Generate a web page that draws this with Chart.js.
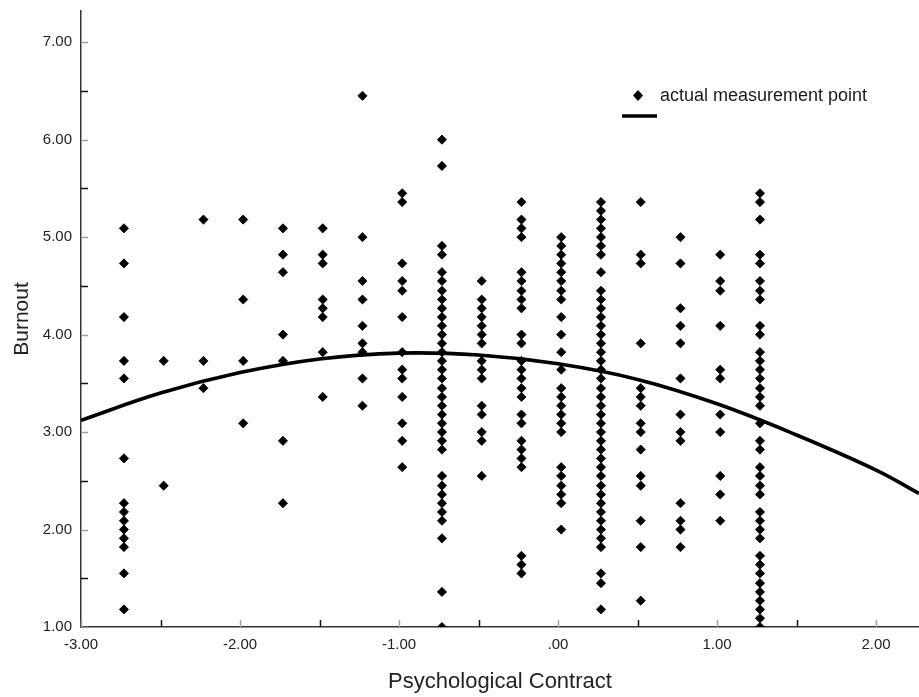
<html>
<head>
    <title>Burnout vs Psychological Contract</title>
    <style>
        body { margin: 0; background: #fff; }
    </style>
</head>
<body>
<div style="width: 919px; height: 697px">
    <canvas id="scatter"></canvas>
</div>

<script src="https://cdn.jsdelivr.net/npm/chart.js"></script>

<script>
    // psychological contract levels (one column of points per level)
    const contractLevels = [-2.73, -2.48, -2.23, -1.98, -1.73, -1.48, -1.23, -0.98, -0.73,
        -0.48, -0.23, 0.02, 0.27, 0.52, 0.77, 1.02, 1.27]

    // burnout scores, same order as contractLevels
    const burnoutByLevel = [
        [5.09, 4.73, 4.18, 3.73, 3.55, 2.73, 2.27, 2.18, 2.09, 2.00, 1.91, 1.82, 1.55, 1.18],
        [3.73, 2.45],
        [5.18, 3.73, 3.45],
        [5.18, 4.36, 3.73, 3.09],
        [5.09, 4.82, 4.64, 4.00, 3.73, 2.91, 2.27],
        [5.09, 4.82, 4.73, 4.36, 4.27, 4.18, 3.82, 3.36],
        [6.45, 5.00, 4.55, 4.36, 4.09, 3.91, 3.82, 3.55, 3.27],
        [5.45, 5.36, 4.73, 4.55, 4.45, 4.18, 3.82, 3.64, 3.55, 3.36, 3.09, 2.91, 2.64],
        [6.00, 5.73, 4.91, 4.82, 4.64, 4.55, 4.45, 4.36, 4.27, 4.18, 4.09, 4.00, 3.91, 3.82,
            3.73, 3.64, 3.55, 3.45, 3.36, 3.27, 3.18, 3.09, 3.00, 2.91, 2.82, 2.55, 2.45, 2.36,
            2.27, 2.18, 2.09, 1.91, 1.36, 1.00],
        [4.55, 4.36, 4.27, 4.18, 4.09, 4.00, 3.91, 3.73, 3.64, 3.55, 3.27, 3.18, 3.00, 2.91, 2.55],
        [5.36, 5.18, 5.09, 5.00, 4.64, 4.55, 4.45, 4.36, 4.27, 4.00, 3.91, 3.73, 3.64, 3.55,
            3.45, 3.36, 3.18, 3.09, 2.91, 2.82, 2.73, 2.64, 1.73, 1.64, 1.55],
        [5.00, 4.91, 4.82, 4.73, 4.64, 4.55, 4.45, 4.36, 4.18, 4.00, 3.82, 3.64, 3.45, 3.36,
            3.27, 3.18, 3.09, 3.00, 2.64, 2.55, 2.45, 2.36, 2.27, 2.00],
        [5.36, 5.27, 5.18, 5.09, 5.00, 4.91, 4.82, 4.64, 4.45, 4.36, 4.27, 4.18, 4.09, 4.00,
            3.91, 3.82, 3.73, 3.64, 3.55, 3.45, 3.36, 3.27, 3.18, 3.09, 3.00, 2.91, 2.82, 2.73,
            2.64, 2.55, 2.45, 2.36, 2.27, 2.18, 2.09, 2.00, 1.91, 1.82, 1.55, 1.45, 1.18],
        [5.36, 4.82, 4.73, 3.91, 3.45, 3.36, 3.27, 3.09, 3.00, 2.82, 2.55, 2.45, 2.09, 1.82, 1.27],
        [5.00, 4.73, 4.27, 4.09, 3.91, 3.55, 3.18, 3.00, 2.91, 2.27, 2.09, 2.00, 1.82],
        [4.82, 4.55, 4.45, 4.09, 3.64, 3.55, 3.18, 3.00, 2.55, 2.36, 2.09],
        [5.45, 5.36, 5.18, 4.82, 4.73, 4.55, 4.45, 4.36, 4.09, 4.00, 3.82, 3.73, 3.64, 3.55,
            3.45, 3.36, 3.27, 3.09, 2.91, 2.82, 2.64, 2.55, 2.45, 2.36, 2.18, 2.09, 2.00, 1.91,
            1.73, 1.64, 1.55, 1.45, 1.36, 1.27, 1.18, 1.09, 1.00]
    ]

    // fitted curve
    const curveX = [-3.00, -2.50, -2.00, -1.50, -1.00, -0.50, 0.00, 0.50, 1.00, 1.50, 2.00, 2.27]
    const curveY = [3.12, 3.40, 3.61, 3.75, 3.81, 3.79, 3.70, 3.54, 3.29, 2.97, 2.61, 2.37]

    // tick labels
    const xTickValues = [-3, -2, -1, 0, 1, 2]
    const xTickLabels = ['-3.00', '-2.00', '-1.00', '.00', '1.00', '2.00']
    const yTickValues = [1, 2, 3, 4, 5, 6, 7]
    const yTickLabels = ['1.00', '2.00', '3.00', '4.00', '5.00', '6.00', '7.00']

    const legendText = 'actual measurement point'

    let scatterPoints = []
    contractLevels.forEach((level, i) => {
        for (const b of burnoutByLevel[i]) {
            scatterPoints.push({x: level, y: b})
        }
    })
    let curvePoints = curveX.map((x, i) => ({x: x, y: curveY[i]}))

    const FONT = "'Liberation Sans', Arial, sans-serif"

    // small inner tick marks, gray on whole numbers, black on halves
    const innerTicks = {
        id: 'innerTicks',
        afterDraw(chart) {
            const ctx = chart.ctx
            const area = chart.chartArea
            const xs = chart.scales.x
            const ys = chart.scales.y
            ctx.save()
            ctx.lineWidth = 1.5
            for (const t of xs.ticks) {
                const px = Math.round(xs.getPixelForValue(t.value)) + 0.5
                ctx.strokeStyle = Number.isInteger(t.value) ? '#a0a0a0' : '#111'
                ctx.beginPath()
                ctx.moveTo(px, area.bottom)
                ctx.lineTo(px, area.bottom - 7)
                ctx.stroke()
            }
            for (const t of ys.ticks) {
                const py = Math.round(ys.getPixelForValue(t.value)) + 0.5
                ctx.strokeStyle = Number.isInteger(t.value) ? '#a0a0a0' : '#111'
                ctx.beginPath()
                ctx.moveTo(area.left, py)
                ctx.lineTo(area.left + 7, py)
                ctx.stroke()
            }
            ctx.restore()
        }
    }

    // legend block in the upper right
    const sideLegend = {
        id: 'sideLegend',
        afterDraw(chart) {
            const ctx = chart.ctx
            ctx.save()
            ctx.fillStyle = '#000'
            ctx.beginPath()
            ctx.moveTo(638, 90)
            ctx.lineTo(643, 95.5)
            ctx.lineTo(638, 101)
            ctx.lineTo(633, 95.5)
            ctx.closePath()
            ctx.fill()
            ctx.font = '18px ' + FONT
            ctx.fillStyle = '#1a1a1a'
            ctx.textBaseline = 'middle'
            ctx.fillText(legendText, 660, 96)
            ctx.strokeStyle = '#000'
            ctx.lineWidth = 3.5
            ctx.beginPath()
            ctx.moveTo(622, 116)
            ctx.lineTo(657, 116)
            ctx.stroke()
            ctx.restore()
        }
    }

    function noPad(scale) {
        scale.paddingLeft = 0
        scale.paddingRight = 0
        scale.paddingTop = 0
        scale.paddingBottom = 0
    }

    new Chart(document.getElementById('scatter'), {
        type: 'scatter',
        data: {
            datasets: [{
                label: legendText,
                data: scatterPoints,
                pointStyle: 'rectRot',
                pointRadius: 4.6,
                pointBorderWidth: 0.8,
                backgroundColor: '#000',
                borderColor: '#000',
                clip: 0
            }, {
                type: 'line',
                label: 'fit',
                data: curvePoints,
                borderColor: '#000',
                borderWidth: 3.6,
                pointRadius: 0,
                tension: 0.4,
                fill: false
            }]
        },
        options: {
            responsive: true,
            maintainAspectRatio: false,
            animation: false,
            layout: {
                autoPadding: false,
                padding: {top: 11, right: 0, left: 0, bottom: 0}
            },
            plugins: {
                legend: {display: false},
                tooltip: {enabled: false}
            },
            scales: {
                x: {
                    type: 'linear',
                    min: -3,
                    max: 2.27,
                    afterFit: (scale) => { scale.height = 70; noPad(scale) },
                    grid: {display: false, drawTicks: false},
                    border: {display: true, color: '#333', width: 1.5},
                    ticks: {
                        stepSize: 0.5,
                        includeBounds: false,
                        autoSkip: false,
                        maxRotation: 0,
                        padding: 9,
                        color: '#222',
                        font: {family: FONT, size: 15},
                        callback: (value) => {
                            const i = xTickValues.indexOf(value)
                            return i >= 0 ? xTickLabels[i] : ''
                        }
                    },
                    title: {
                        display: true,
                        text: 'Psychological Contract',
                        color: '#222',
                        font: {family: FONT, size: 22},
                        padding: {top: 0, bottom: 2}
                    }
                },
                y: {
                    type: 'linear',
                    min: 1,
                    max: 7.32,
                    afterFit: (scale) => { scale.width = 81; noPad(scale) },
                    grid: {display: false, drawTicks: false},
                    border: {display: true, color: '#333', width: 1.5},
                    ticks: {
                        stepSize: 0.5,
                        includeBounds: false,
                        autoSkip: false,
                        padding: 9,
                        color: '#222',
                        font: {family: FONT, size: 15},
                        callback: (value) => {
                            const i = yTickValues.indexOf(value)
                            return i >= 0 ? yTickLabels[i] : ''
                        }
                    },
                    title: {
                        display: true,
                        text: 'Burnout',
                        color: '#222',
                        font: {family: FONT, size: 21},
                        padding: {top: 10, bottom: 0}
                    }
                }
            }
        },
        plugins: [innerTicks, sideLegend]
    });
</script>
</body>
</html>
